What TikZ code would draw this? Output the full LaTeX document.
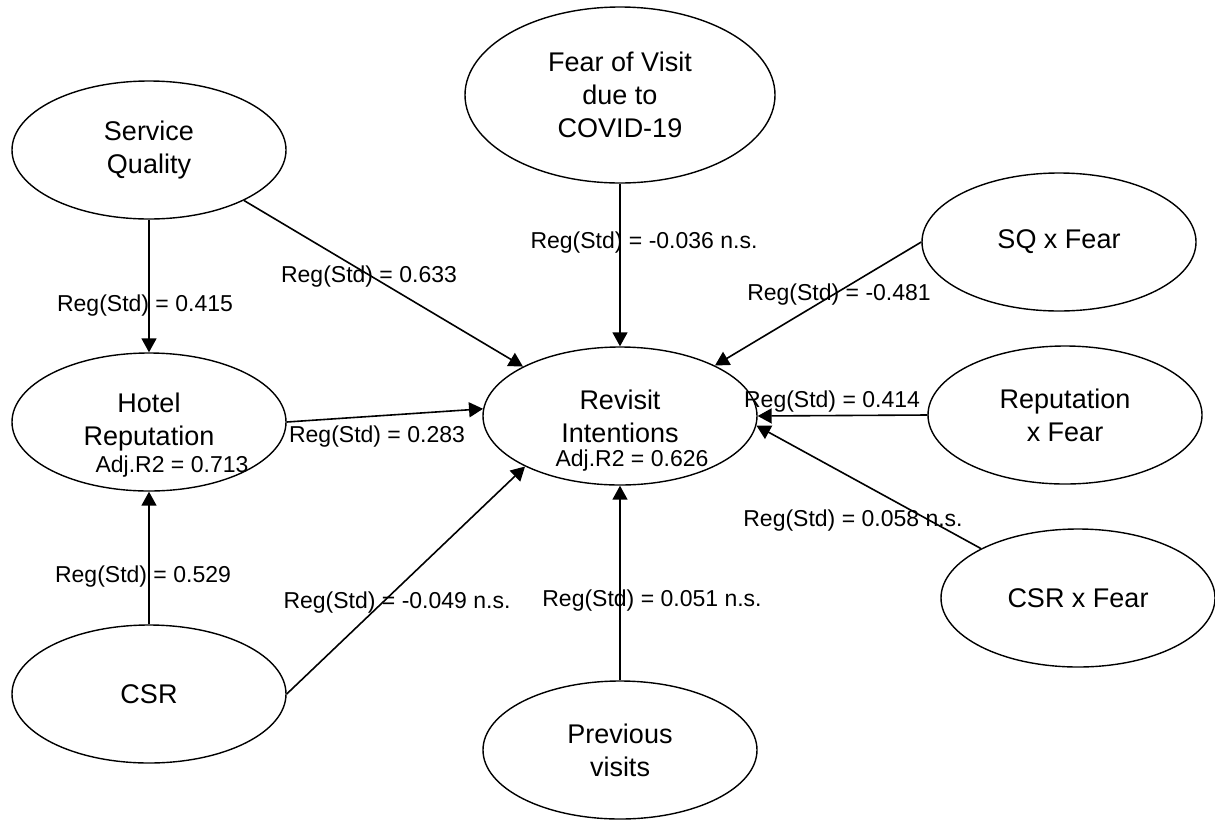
\documentclass[tikz,border=0pt]{standalone}
\usepackage{fontspec}
\setmainfont{Liberation Sans}
\usetikzlibrary{arrows.meta, shapes.geometric, positioning}

\begin{document}
\begin{tikzpicture}[x=0.5pt, y=-0.5pt, >={Triangle[length=7pt,width=7.5pt]},
  construct/.style={draw, line width=0.7pt, ellipse, minimum width=137pt, minimum height=69pt,
    inner sep=0pt, align=center, font=\fontsize{13.5}{16.5}\selectfont},
  coef/.style={font=\fontsize{11.5}{13}\selectfont, inner sep=0pt},
  path/.style={->, line width=0.8pt}]
  \useasboundingbox (0,0) rectangle (1215,820);
  % Constructs
  \node[construct] (sq) at (149,150) {Service\\Quality};
  \node[construct, minimum width=155pt, minimum height=88pt] (fear) at (620,95) {Fear of Visit\\due to\\COVID-19};
  \node[construct] (sqf) at (1059,242) {SQ x Fear};
  \node[construct] (hotel) at (149,422) {Hotel\\Reputation};
  \node[construct] (rev) at (620,416) {Revisit\\Intentions};
  \node[construct] (repf) at (1065,415) {Reputation\\x Fear};
  \node[construct] (csrf) at (1078,598) {CSR x Fear};
  \node[construct] (csr) at (149,694) {CSR};
  \node[construct] (prev) at (620,750) {Previous\\visits};
  % Explained variance
  \node[coef] (hotelr2) at (172,467) {Adj.R2 = 0.713};
  \node[coef] (revr2) at (632,461) {Adj.R2 = 0.626};
  % Paths
  \draw[path] (sq) -- (hotel);
  \draw[path] (csr) -- (hotel);
  \draw[path] (sq.332) -- (rev.153);
  \draw[path] (hotel.east) -- (rev.177);
  \draw[path] (csr.east) -- (rev.208);
  \draw[path] (fear) -- (rev);
  \draw[path] (prev) -- (rev);
  \draw[path] (sqf.west) -- (rev.28);
  \draw[path] (repf.west) -- (rev.east);
  \draw[path] (csrf.153) -- (rev.356);
  % Coefficients
  \node[coef] (c1) at (145,306) {Reg(Std) = 0.415};
  \node[coef] (c2) at (369,277) {Reg(Std) = 0.633};
  \node[coef] (c3) at (644,243) {Reg(Std) = -0.036 n.s.};
  \node[coef] (c4) at (839,295) {Reg(Std) = -0.481};
  \node[coef] (c5) at (377,437) {Reg(Std) = 0.283};
  \node[coef] (c6) at (832,402) {Reg(Std) = 0.414};
  \node[coef] (c7) at (853,521) {Reg(Std) = 0.058 n.s.};
  \node[coef] (c8) at (143,577) {Reg(Std) = 0.529};
  \node[coef] (c9) at (397,603) {Reg(Std) = -0.049 n.s.};
  \node[coef] (c10) at (652,601) {Reg(Std) = 0.051 n.s.};
\end{tikzpicture}
\end{document}
